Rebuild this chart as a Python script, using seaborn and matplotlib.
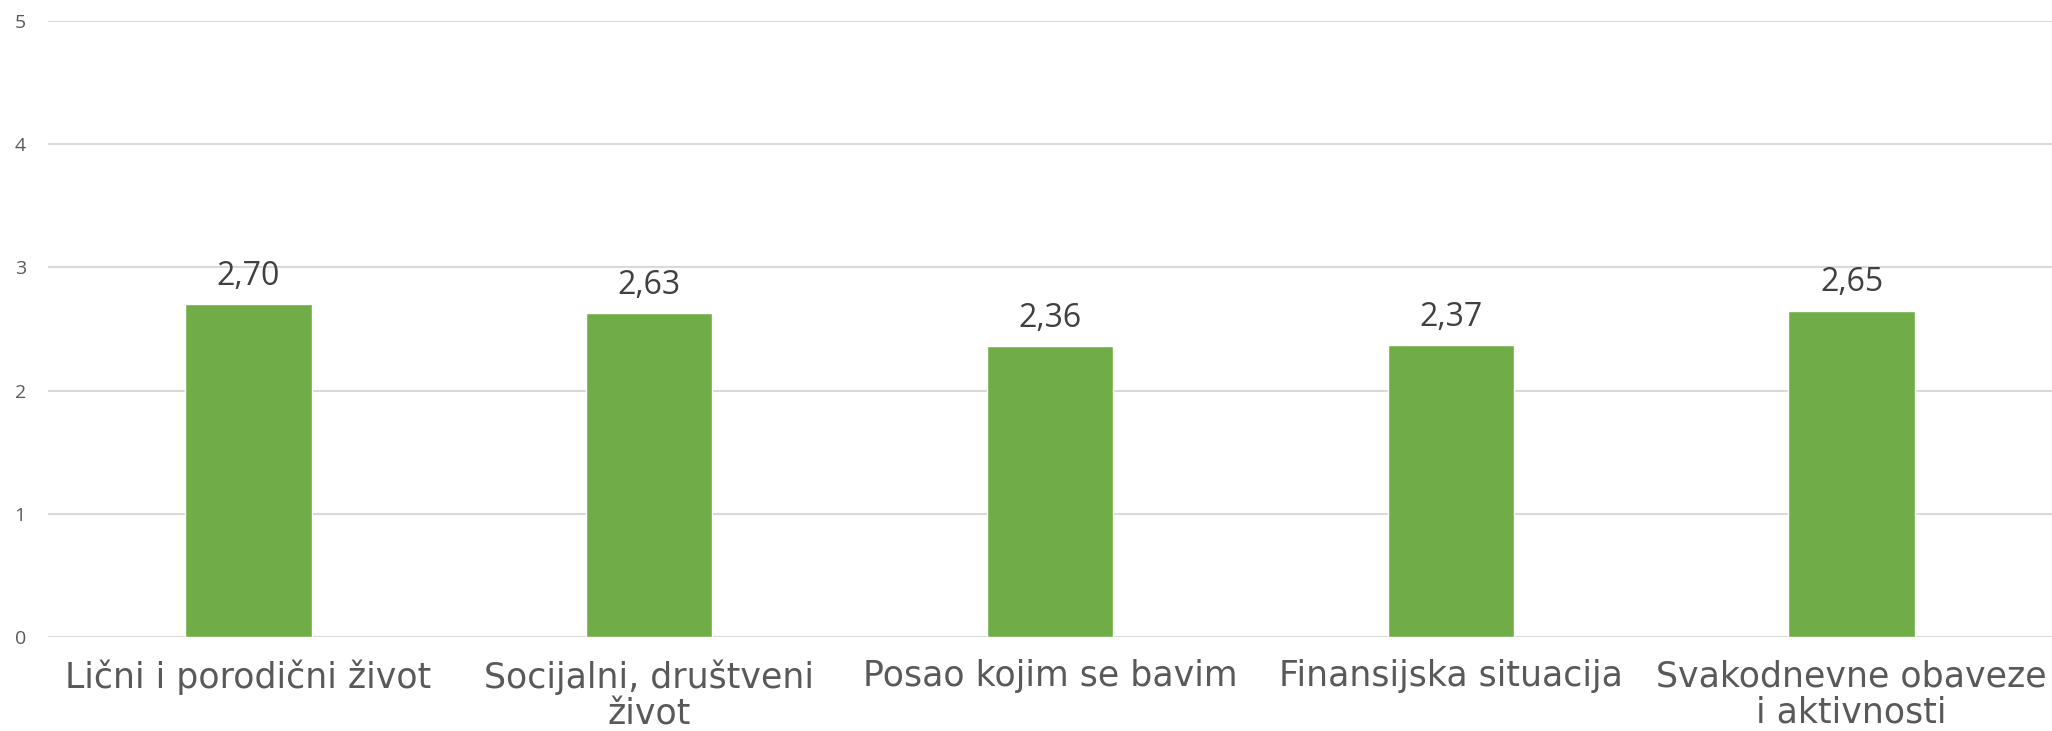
import matplotlib
matplotlib.use("Agg")
import matplotlib.pyplot as plt
import seaborn as sns
import pandas as pd

categories = ["Lični i porodični život", "Socijalni, društveni\nživot", "Posao kojim se bavim",
              "Finansijska situacija", "Svakodnevne obaveze\ni aktivnosti"]
values = [2.70, 2.63, 2.36, 2.37, 2.65]
value_labels = ["2,70", "2,63", "2,36", "2,37", "2,65"]
yticks = [0, 1, 2, 3, 4, 5]

sns.set_style("white")
plt.rcParams['font.family'] = ['DejaVu Sans']

df = pd.DataFrame({"cat": categories, "val": values})

fig = plt.figure(figsize=(20.52, 7.31), dpi=100)
ax = fig.add_axes([48/2052, 1-637/731, 1-48/2052, (637-21)/731])
sns.barplot(data=df, x="cat", y="val", color="#70AD47", width=0.315, ax=ax, saturation=1)

ax.set_ylim(0, 5)
ax.set_xlim(-0.5, len(categories)-0.5)
ax.set_yticks(yticks)
ax.set_yticklabels([str(t) for t in yticks], fontsize=14, color="#595959",
                   family=["Open Sans", "DejaVu Sans"])
ax.yaxis.grid(True, color="#d9d9d9", linewidth=1.5)
ax.set_axisbelow(True)
for s in ax.spines.values():
    s.set_visible(False)
ax.tick_params(axis='y', length=0, pad=16)
ax.tick_params(axis='x', length=0, pad=16)
ax.set_xticks(range(len(categories)))
ax.set_xticklabels(categories, fontsize=25, color="#595959", linespacing=1.1, va='top')
ax.set_xlabel("")
ax.set_ylabel("")

for i, (v, lab) in enumerate(zip(values, value_labels)):
    ax.annotate(lab, (i, v), xytext=(0, 8), textcoords="offset points",
                ha="center", va="bottom", fontsize=23, color="#404040",
                family=["Open Sans", "DejaVu Sans"])

fig.savefig("out.png", dpi=100)
